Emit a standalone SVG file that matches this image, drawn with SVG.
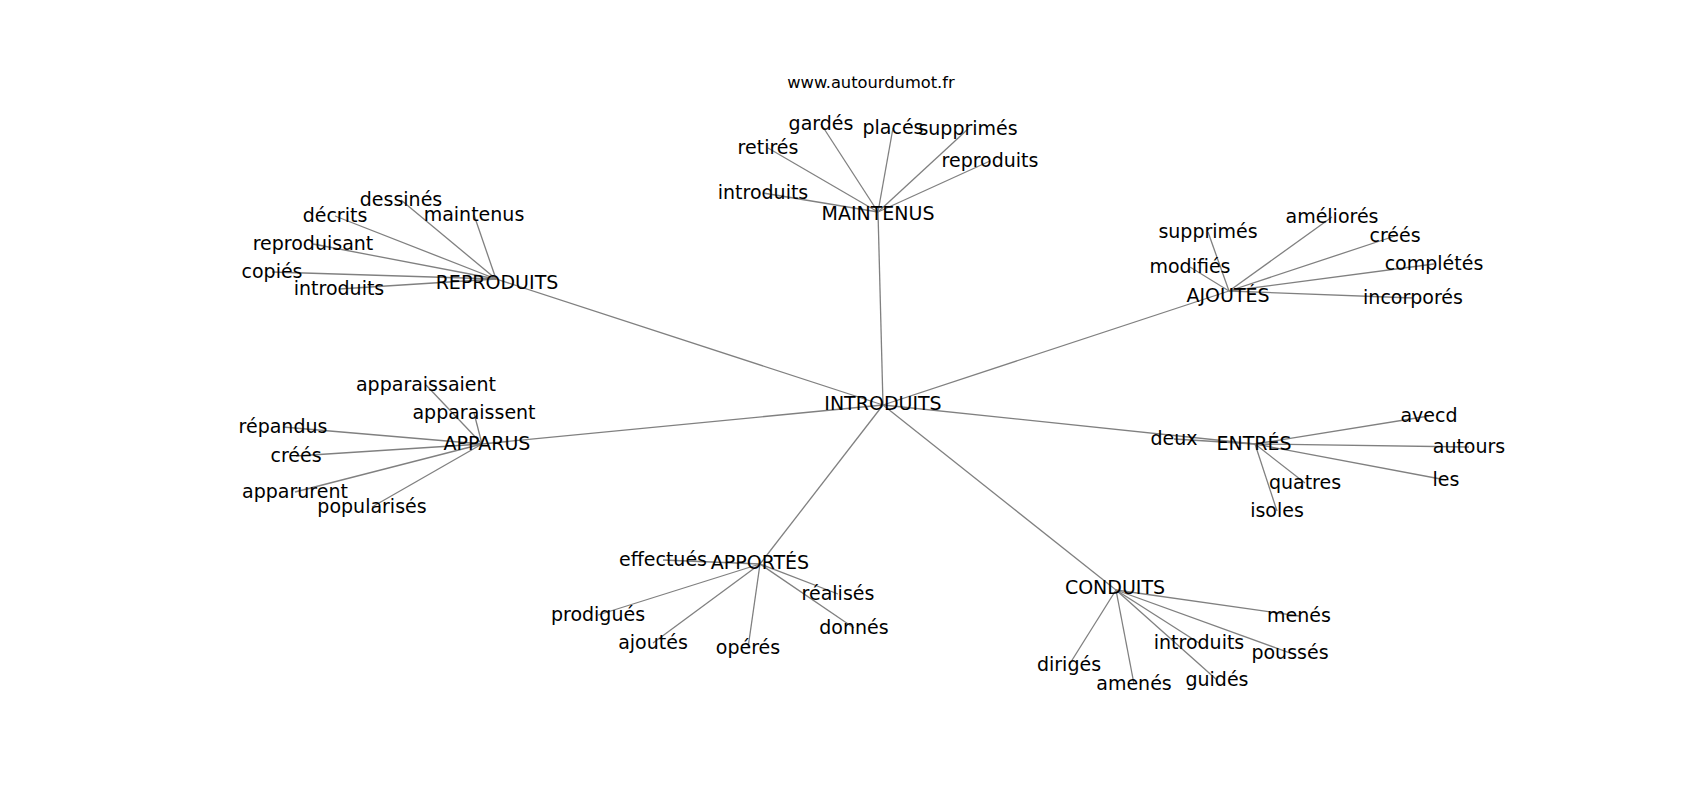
<svg xmlns="http://www.w3.org/2000/svg" width="1700" height="800" viewBox="0 0 1700 800">
<style>
.e{stroke:#808080;stroke-width:1.3;fill:none}
.t{font-family:"DejaVu Sans","Liberation Sans",sans-serif;font-size:19px;fill:#000;text-anchor:middle}
.u{font-family:"DejaVu Sans","Liberation Sans",sans-serif;font-size:16.3px;fill:#000;text-anchor:middle}
</style>
<rect width="1700" height="800" fill="#fff"/>
<g id="edges">
<line class="e" x1="883" y1="405" x2="878" y2="212"/>
<line class="e" x1="883" y1="405" x2="496" y2="279"/>
<line class="e" x1="883" y1="405" x2="1229" y2="291"/>
<line class="e" x1="883" y1="405" x2="1255" y2="444"/>
<line class="e" x1="883" y1="405" x2="482" y2="444"/>
<line class="e" x1="883" y1="405" x2="760" y2="564"/>
<line class="e" x1="883" y1="405" x2="1116" y2="590"/>
<line class="e" x1="878" y1="212" x2="821" y2="124"/>
<line class="e" x1="878" y1="212" x2="893" y2="128"/>
<line class="e" x1="878" y1="212" x2="968" y2="129"/>
<line class="e" x1="878" y1="212" x2="990" y2="161"/>
<line class="e" x1="878" y1="212" x2="768" y2="148"/>
<line class="e" x1="878" y1="212" x2="763" y2="193"/>
<line class="e" x1="496" y1="279" x2="401" y2="200"/>
<line class="e" x1="496" y1="279" x2="335" y2="216"/>
<line class="e" x1="496" y1="279" x2="474" y2="215"/>
<line class="e" x1="496" y1="279" x2="313" y2="244"/>
<line class="e" x1="496" y1="279" x2="272" y2="272"/>
<line class="e" x1="496" y1="279" x2="339" y2="289"/>
<line class="e" x1="1229" y1="291" x2="1208" y2="232"/>
<line class="e" x1="1229" y1="291" x2="1332" y2="217"/>
<line class="e" x1="1229" y1="291" x2="1395" y2="236"/>
<line class="e" x1="1229" y1="291" x2="1434" y2="264"/>
<line class="e" x1="1229" y1="291" x2="1413" y2="298"/>
<line class="e" x1="1229" y1="291" x2="1190" y2="267"/>
<line class="e" x1="1255" y1="444" x2="1174" y2="439"/>
<line class="e" x1="1255" y1="444" x2="1429" y2="416"/>
<line class="e" x1="1255" y1="444" x2="1469" y2="447"/>
<line class="e" x1="1255" y1="444" x2="1446" y2="480"/>
<line class="e" x1="1255" y1="444" x2="1305" y2="483"/>
<line class="e" x1="1255" y1="444" x2="1277" y2="511"/>
<line class="e" x1="482" y1="444" x2="426" y2="385"/>
<line class="e" x1="482" y1="444" x2="474" y2="413"/>
<line class="e" x1="482" y1="444" x2="283" y2="427"/>
<line class="e" x1="482" y1="444" x2="296" y2="456"/>
<line class="e" x1="482" y1="444" x2="295" y2="492"/>
<line class="e" x1="482" y1="444" x2="372" y2="507"/>
<line class="e" x1="760" y1="564" x2="663" y2="560"/>
<line class="e" x1="760" y1="564" x2="598" y2="615"/>
<line class="e" x1="760" y1="564" x2="653" y2="643"/>
<line class="e" x1="760" y1="564" x2="748" y2="648"/>
<line class="e" x1="760" y1="564" x2="838" y2="594"/>
<line class="e" x1="760" y1="564" x2="854" y2="628"/>
<line class="e" x1="1116" y1="590" x2="1069" y2="665"/>
<line class="e" x1="1116" y1="590" x2="1134" y2="684"/>
<line class="e" x1="1116" y1="590" x2="1217" y2="680"/>
<line class="e" x1="1116" y1="590" x2="1199" y2="643"/>
<line class="e" x1="1116" y1="590" x2="1290" y2="653"/>
<line class="e" x1="1116" y1="590" x2="1299" y2="616"/>
</g>
<g id="url"><text class="u" x="871" y="88">www.autourdumot.fr</text></g>
<g id="n-introduits-hub"><text class="t" x="883" y="410">INTRODUITS</text></g>
<g id="n-maintenus"><text class="t" x="878" y="220">MAINTENUS</text></g>
<g id="n-m-gardes"><text class="t" x="821" y="130">gardés</text></g>
<g id="n-m-places"><text class="t" x="893" y="134">placés</text></g>
<g id="n-m-supprimes"><text class="t" x="968" y="135">supprimés</text></g>
<g id="n-m-reproduits"><text class="t" x="990" y="167">reproduits</text></g>
<g id="n-m-retires"><text class="t" x="768" y="154">retirés</text></g>
<g id="n-m-introduits"><text class="t" x="763" y="199">introduits</text></g>
<g id="n-reproduits"><text class="t" x="497" y="289">REPRODUITS</text></g>
<g id="n-r-dessines"><text class="t" x="401" y="206">dessinés</text></g>
<g id="n-r-decrits"><text class="t" x="335" y="222">décrits</text></g>
<g id="n-r-maintenus"><text class="t" x="474" y="221">maintenus</text></g>
<g id="n-r-reproduisant"><text class="t" x="313" y="250">reproduisant</text></g>
<g id="n-r-copies"><text class="t" x="272" y="278">copiés</text></g>
<g id="n-r-introduits"><text class="t" x="339" y="295">introduits</text></g>
<g id="n-ajoutes"><text class="t" x="1228" y="302">AJOUTÉS</text></g>
<g id="n-a-supprimes"><text class="t" x="1208" y="238">supprimés</text></g>
<g id="n-a-ameliores"><text class="t" x="1332" y="223">améliorés</text></g>
<g id="n-a-crees"><text class="t" x="1395" y="242">créés</text></g>
<g id="n-a-completes"><text class="t" x="1434" y="270">complétés</text></g>
<g id="n-a-incorpores"><text class="t" x="1413" y="304">incorporés</text></g>
<g id="n-a-modifies"><text class="t" x="1190" y="273">modifiés</text></g>
<g id="n-entres"><text class="t" x="1254" y="450">ENTRÉS</text></g>
<g id="n-e-deux"><text class="t" x="1174" y="445">deux</text></g>
<g id="n-e-avecd"><text class="t" x="1429" y="422">avecd</text></g>
<g id="n-e-autours"><text class="t" x="1469" y="453">autours</text></g>
<g id="n-e-les"><text class="t" x="1446" y="486">les</text></g>
<g id="n-e-quatres"><text class="t" x="1305" y="489">quatres</text></g>
<g id="n-e-isoles"><text class="t" x="1277" y="517">isoles</text></g>
<g id="n-apparus"><text class="t" x="487" y="450">APPARUS</text></g>
<g id="n-p-apparaissaient"><text class="t" x="426" y="391">apparaissaient</text></g>
<g id="n-p-apparaissent"><text class="t" x="474" y="419">apparaissent</text></g>
<g id="n-p-repandus"><text class="t" x="283" y="433">répandus</text></g>
<g id="n-p-crees"><text class="t" x="296" y="462">créés</text></g>
<g id="n-p-apparurent"><text class="t" x="295" y="498">apparurent</text></g>
<g id="n-p-popularises"><text class="t" x="372" y="513">popularisés</text></g>
<g id="n-apportes"><text class="t" x="760" y="569">APPORTÉS</text></g>
<g id="n-o-effectues"><text class="t" x="663" y="566">effectués</text></g>
<g id="n-o-prodigues"><text class="t" x="598" y="621">prodigués</text></g>
<g id="n-o-ajoutes"><text class="t" x="653" y="649">ajoutés</text></g>
<g id="n-o-operes"><text class="t" x="748" y="654">opérés</text></g>
<g id="n-o-realises"><text class="t" x="838" y="600">réalisés</text></g>
<g id="n-o-donnes"><text class="t" x="854" y="634">donnés</text></g>
<g id="n-conduits"><text class="t" x="1115" y="594">CONDUITS</text></g>
<g id="n-c-diriges"><text class="t" x="1069" y="671">dirigés</text></g>
<g id="n-c-amenes"><text class="t" x="1134" y="690">amenés</text></g>
<g id="n-c-guides"><text class="t" x="1217" y="686">guidés</text></g>
<g id="n-c-introduits"><text class="t" x="1199" y="649">introduits</text></g>
<g id="n-c-pousses"><text class="t" x="1290" y="659">poussés</text></g>
<g id="n-c-menes"><text class="t" x="1299" y="622">menés</text></g>
</svg>
